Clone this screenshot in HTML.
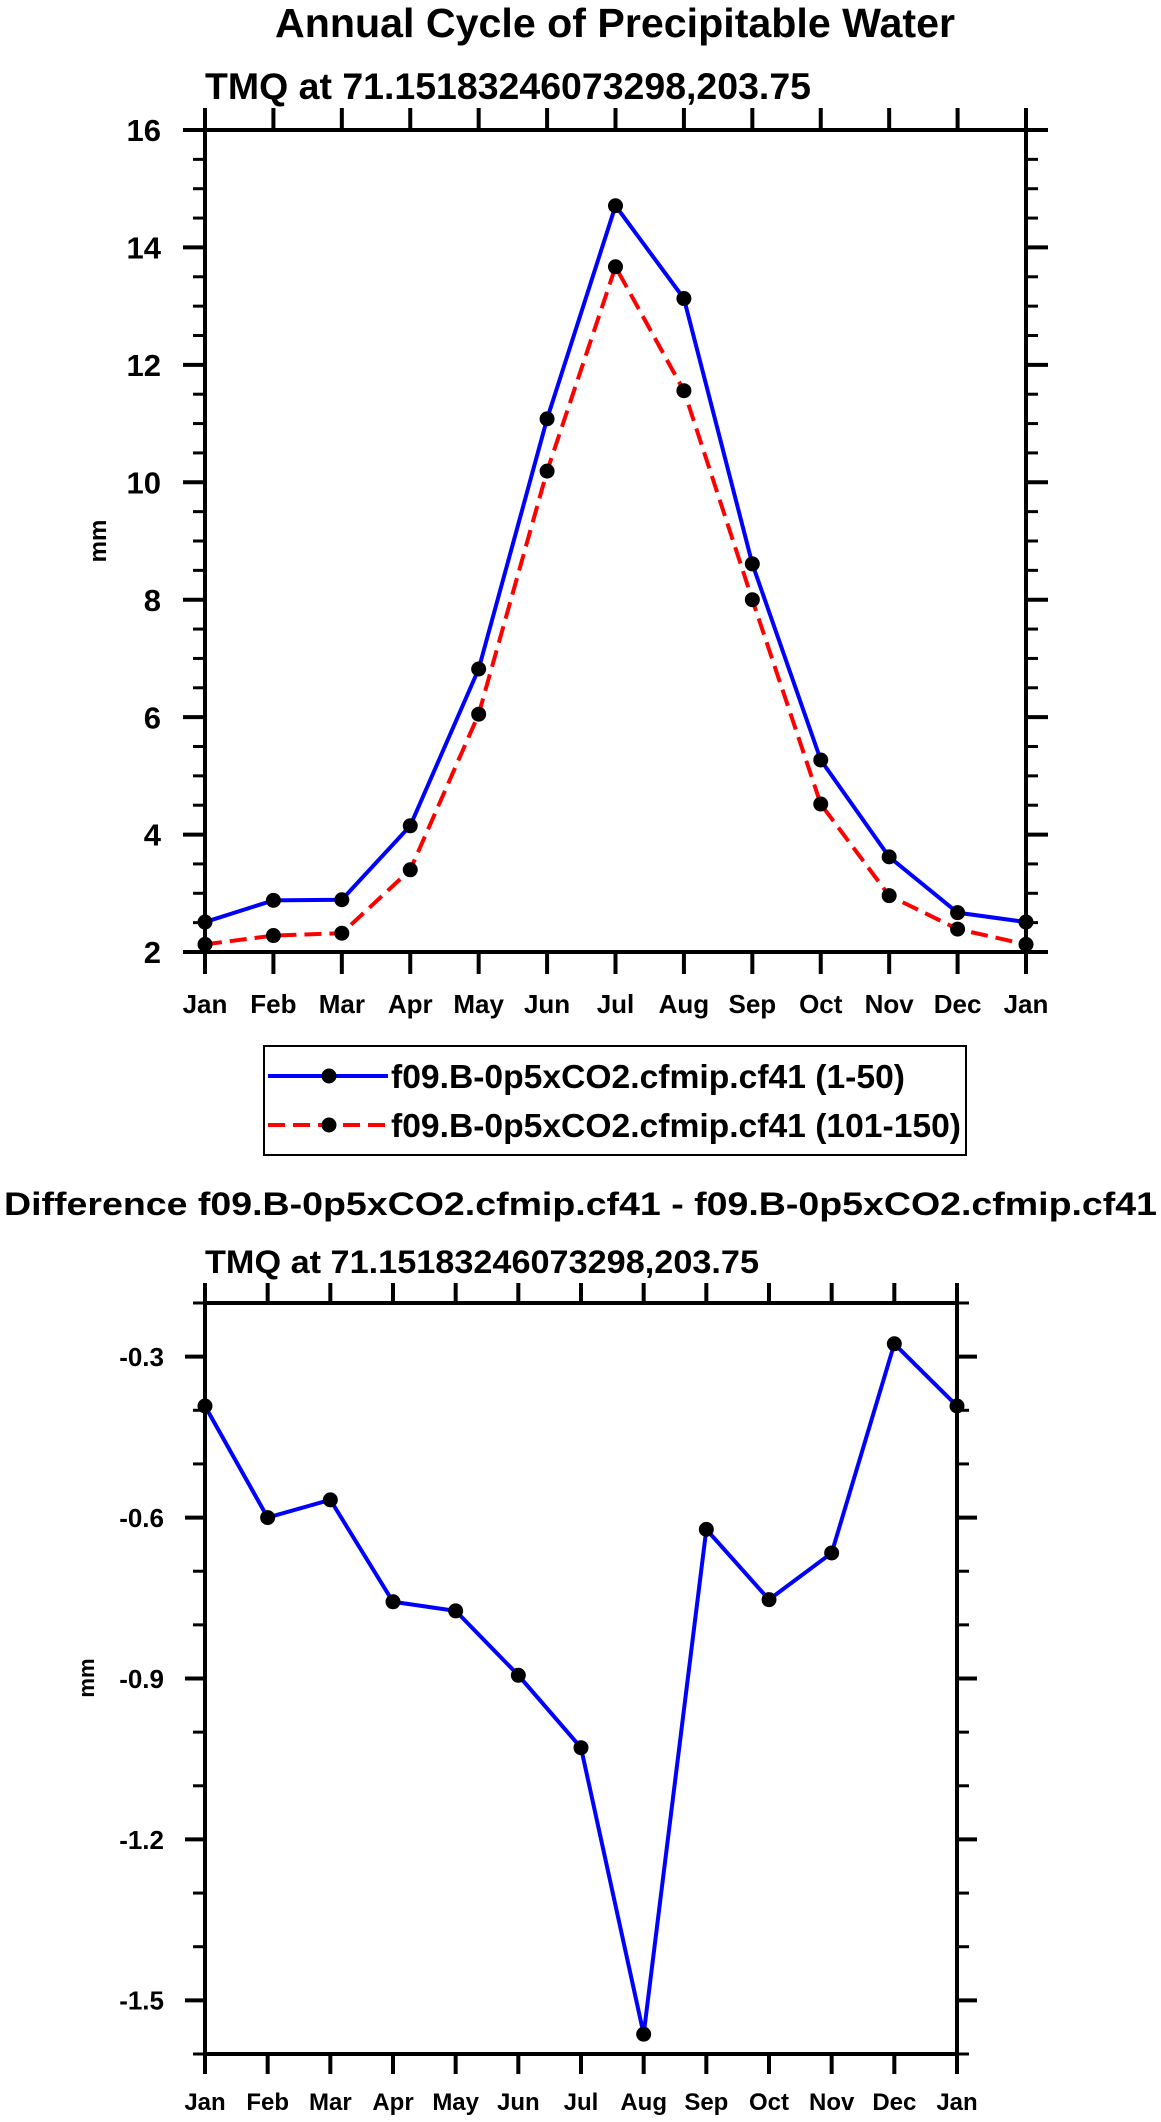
<!DOCTYPE html>
<html><head><meta charset="utf-8"><style>
html,body{margin:0;padding:0;background:#fff;}
svg{display:block;font-family:"Liberation Sans",Arial,sans-serif;font-weight:bold;}
</style></head><body>
<svg id="svg" width="1161" height="2122" viewBox="0 0 1161 2122" xmlns="http://www.w3.org/2000/svg">
<text x="615" y="37" font-size="41" text-anchor="middle" textLength="680" lengthAdjust="spacingAndGlyphs">Annual Cycle of Precipitable Water</text>
<text x="205" y="99" font-size="37" textLength="606" lengthAdjust="spacingAndGlyphs">TMQ at 71.15183246073298,203.75</text>
<text transform="translate(106,541) rotate(-90)" font-size="24" text-anchor="middle">mm</text>
<g id="top"></g>
<g>
<rect x="264" y="1046" width="702" height="109" fill="none" stroke="#000" stroke-width="2"/>
<g>
<line x1="268" y1="1076" x2="388" y2="1076" stroke="#0000ff" stroke-width="4"/>
<circle cx="329" cy="1076" r="7.5" fill="#000"/>
<text x="391" y="1088" font-size="33" textLength="514" lengthAdjust="spacingAndGlyphs">f09.B-0p5xCO2.cfmip.cf41 (1-50)</text>
</g>
<g>
<line x1="268" y1="1125" x2="388" y2="1125" stroke="#ff0000" stroke-width="4" stroke-dasharray="17,8"/>
<circle cx="329" cy="1125" r="7.5" fill="#000"/>
<text x="391" y="1137" font-size="33" textLength="570" lengthAdjust="spacingAndGlyphs">f09.B-0p5xCO2.cfmip.cf41 (101-150)</text>
</g>
</g>
<text x="4" y="1215" font-size="32" textLength="1153" lengthAdjust="spacingAndGlyphs">Difference f09.B-0p5xCO2.cfmip.cf41 - f09.B-0p5xCO2.cfmip.cf41</text>
<text x="205" y="1273" font-size="32" textLength="554" lengthAdjust="spacingAndGlyphs">TMQ at 71.15183246073298,203.75</text>
<text transform="translate(94,1678) rotate(-90)" font-size="22" text-anchor="middle">mm</text>
<g id="bot"></g>
</svg>
<script>
const months = ["Jan","Feb","Mar","Apr","May","Jun","Jul","Aug","Sep","Oct","Nov","Dec","Jan"];
const seriesA = [2.51,2.88,2.89,4.15,6.82,11.08,14.71,13.13,8.61,5.27,3.62,2.67,2.51];
const seriesB = [2.13,2.28,2.32,3.40,6.05,10.19,13.67,11.56,8.00,4.52,2.96,2.39,2.13];
const diffValues = [-0.392,-0.600,-0.567,-0.757,-0.774,-0.894,-1.029,-1.563,-0.622,-0.753,-0.666,-0.276,-0.392];
const topYTicks = ["2","4","6","8","10","12","14","16"];
const botYTicks = ["-1.5","-1.2","-0.9","-0.6","-0.3"];
const NS="http://www.w3.org/2000/svg";
function mk(parent,tag,attrs){const e=document.createElementNS(NS,tag);for(const k in attrs)e.setAttribute(k,attrs[k]);parent.appendChild(e);return e;}
function drawChart(g,cfg){
  const L=cfg.left,R=cfg.right,T=cfg.top,B=cfg.bottom;
  const xs=i=>L+(R-L)*i/(months.length-1);
  const ys=v=>B-(v-cfg.ymin)/(cfg.ymax-cfg.ymin)*(B-T);
  // minor y ticks
  for(let v=cfg.ymin;v<=cfg.ymax+1e-9;v+=cfg.minor){
    const y=ys(v);
    const t1=mk(g,'line',{x1:L-12,y1:y,x2:L,y2:y,stroke:'#000','stroke-width':3});
    
    
    const t2=mk(g,'line',{x1:R,y1:y,x2:R+12,y2:y,stroke:'#000','stroke-width':3});
    
    
  }
  cfg.ticks.forEach(lbl=>{
    const y=ys(parseFloat(lbl));
    const a=mk(g,'line',{x1:L-cfg.tl,y1:y,x2:L,y2:y,stroke:'#000','stroke-width':4});
    
    
    const b=mk(g,'line',{x1:R,y1:y,x2:R+cfg.tl,y2:y,stroke:'#000','stroke-width':4});
    
    
    const t=mk(g,'text',{x:cfg.labelRight,y:y+cfg.yfs*0.36,'font-size':cfg.yfs,'text-anchor':'end'});
    t.textContent=lbl;
    
    
  });
  months.forEach((m,i)=>{
    const x=xs(i);
    const a=mk(g,'line',{x1:x,y1:T-cfg.tl,x2:x,y2:T,stroke:'#000','stroke-width':4});
    
    
    const b=mk(g,'line',{x1:x,y1:B,x2:x,y2:B+cfg.tl,stroke:'#000','stroke-width':4});
    
    
    const t=mk(g,'text',{x:x,y:cfg.monthY,'font-size':cfg.mfs,'text-anchor':'middle'});
    t.textContent=m;
    
    
  });
  const frame=mk(g,'rect',{x:L,y:T,width:R-L,height:B-T,fill:'none',stroke:'#000','stroke-width':4});
  
  
  cfg.series.forEach(s=>{
    const pts=s.data.map((v,i)=>xs(i)+','+ys(v)).join(' ');
    const pl=mk(g,'polyline',{points:pts,fill:'none',stroke:s.color,'stroke-width':4,'stroke-dasharray':s.dash||'none'});
    
    
    s.data.forEach((v,i)=>{
      const c=mk(g,'circle',{cx:xs(i),cy:ys(v),r:7.5,fill:'#000'});
      
      
    });
  });
}
drawChart(document.getElementById('top'),{left:205,right:1026,top:130,bottom:952,ymin:2,ymax:16,minor:0.5,ticks:topYTicks,tl:22,labelRight:161,yfs:31,mfs:26,monthY:1013,
  series:[{data:seriesB,color:'#ff0000',dash:'17,8',name:'series-101-150-line'},{data:seriesA,color:'#0000ff',name:'series-1-50-line'}]});
drawChart(document.getElementById('bot'),{left:205,right:957,top:1303,bottom:2054,ymin:-1.6,ymax:-0.2,minor:0.1,ticks:botYTicks,tl:20,labelRight:164,yfs:26,mfs:24,monthY:2110,
  series:[{data:diffValues,color:'#0000ff',name:'difference-line'}]});
</script>
</body></html>
